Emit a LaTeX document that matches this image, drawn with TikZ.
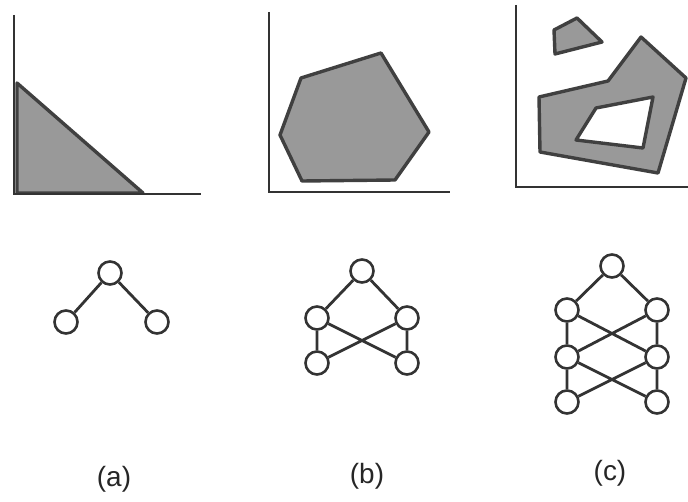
\documentclass[tikz,border=0pt]{standalone}
\usepackage{fontspec}
\setmainfont{Liberation Sans}
\usepackage{xcolor}
\usetikzlibrary{positioning,calc}

\begin{document}
\begin{tikzpicture}[x=1bp,y=-1bp,
  axis/.style={line width=1.6bp,black!80},
  region/.style={line width=3.4bp,draw=black!75,fill=black!40,line join=round,even odd rule},
  unit/.style={circle,draw=black!80,line width=2.6bp,minimum size=23bp,inner sep=0pt},
  link/.style={line width=2.8bp,black!80},
  caption/.style={font=\fontsize{28}{32}\selectfont,text=black!85}]
\useasboundingbox (0,0) rectangle (688,502);
% (a) half-plane region
\draw[region] (17,83) -- (143,193) -- (17,193) -- cycle;
\draw[axis] (14,15) -- (14,194) -- (201,194);
% (b) convex region
\draw[region] (301,78) -- (381,53) -- (429,132) -- (395,180) -- (302,181) -- (280,135) -- cycle;
\draw[axis] (269,12) -- (269,192) -- (450,192);
% (c) disjoint, non-convex region with a hole
\draw[region] (554,30) -- (577,18) -- (602,42) -- (555,54) -- cycle;
\draw[region] (539,97) -- (608,81) -- (641,37) -- (686,78) -- (658,173) -- (540,152) -- cycle
  (596,108) -- (653,97) -- (643,148) -- (576,140) -- cycle;
\draw[axis] (516,5) -- (516,187) -- (688,187);
% networks
\node[unit] (a0) at (110,273) {};
\node[unit] (a1) at (66,322) {};
\node[unit] (a2) at (157,322) {};
\draw[link] (a0) -- (a1) (a0) -- (a2);
\node[unit] (b0) at (362,271) {};
\node[unit] (b1) at (317,318) {};
\node[unit] (b2) at (407,318) {};
\node[unit] (b3) at (317,363) {};
\node[unit] (b4) at (407,363) {};
\draw[link] (b0) -- (b1) (b0) -- (b2) (b1) -- (b3) (b2) -- (b4) (b1) -- (b4) (b2) -- (b3);
\node[unit] (c0) at (612,266) {};
\foreach \r/\y in {1/310,2/357,3/402} {
  \node[unit] (cl\r) at (567,\y) {};
  \node[unit] (cr\r) at (657,\y) {};
}
\draw[link] (c0) -- (cl1) (c0) -- (cr1);
\foreach \r/\s in {1/2,2/3}
  \draw[link] (cl\r) -- (cl\s) (cr\r) -- (cr\s) (cl\r) -- (cr\s) (cr\r) -- (cl\s);
% captions
\node[caption] (capa) at (114,479) {(a)};
\node[caption] (capb) at (367,476) {(b)};
\node[caption] (capc) at (610,473) {(c)};
\end{tikzpicture}
\end{document}
